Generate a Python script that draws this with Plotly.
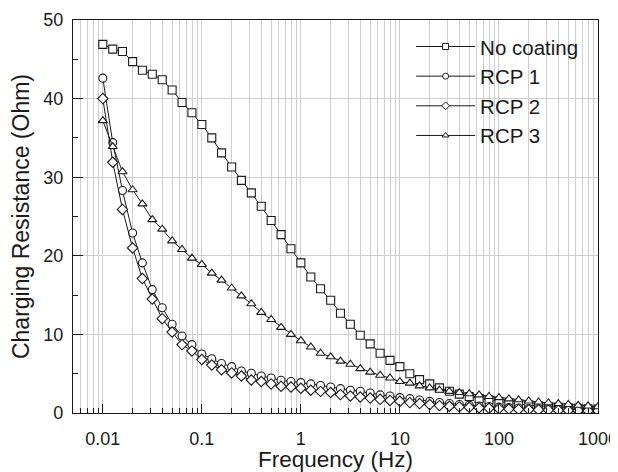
import plotly.graph_objects as go

freq = [0.01, 0.0126, 0.0158, 0.02, 0.0251, 0.0316, 0.0398, 0.0501, 0.0631, 0.0794,
        0.1, 0.126, 0.158, 0.2, 0.251, 0.316, 0.398, 0.501, 0.631, 0.794,
        1, 1.26, 1.58, 2, 2.51, 3.16, 3.98, 5.01, 6.31, 7.94,
        10, 12.6, 15.8, 20, 25.1, 31.6, 39.8, 50.1, 63.1, 79.4,
        100, 126, 158, 200, 251, 316, 398, 501, 631, 794, 1000]

no_coating = [46.9, 46.3, 46.0, 44.7, 43.6, 43.1, 42.4, 41.1, 39.5, 38.2,
              36.7, 35.0, 33.1, 31.3, 29.6, 28.0, 26.3, 24.5, 22.7, 20.9,
              19.1, 17.3, 15.8, 14.35, 12.7, 11.3, 9.9, 8.8, 7.6, 6.7,
              5.9, 5.0, 4.25, 3.7, 3.2, 2.76, 2.4, 2.1, 1.85, 1.65,
              1.45, 1.3, 1.15, 1.0, 0.9, 0.8, 0.72, 0.65, 0.6, 0.55, 0.5]

rcp1 = [42.6, 34.4, 28.3, 22.9, 19.1, 15.7, 13.4, 11.3, 9.8, 8.7,
        7.5, 6.9, 6.3, 5.9, 5.35, 5.05, 4.7, 4.45, 4.16, 4.0,
        3.87, 3.7, 3.5, 3.3, 3.1, 2.9, 2.76, 2.55, 2.3, 2.17,
        1.96, 1.83, 1.65, 1.48, 1.33, 1.2, 1.08, 0.98, 0.9, 0.82,
        0.75, 0.69, 0.63, 0.58, 0.54, 0.5, 0.47, 0.44, 0.41, 0.39, 0.37]

rcp2 = [40.0, 31.9, 25.9, 21.0, 17.1, 14.5, 12.0, 10.3, 8.7, 7.9,
        6.8, 6.1, 5.5, 5.1, 4.7, 4.2, 4.0, 3.7, 3.4, 3.3,
        3.15, 2.9, 2.75, 2.6, 2.34, 2.17, 2.04, 1.9, 1.74, 1.6,
        1.49, 1.32, 1.2, 1.07, 0.94, 0.86, 0.78, 0.72, 0.66, 0.6,
        0.55, 0.5, 0.46, 0.42, 0.39, 0.36, 0.34, 0.32, 0.3, 0.28, 0.27]

rcp3 = [37.2, 33.9, 30.7, 28.4, 26.6, 24.6, 23.4, 21.9, 20.8, 19.7,
        18.9, 17.8, 16.9, 15.9, 14.9, 13.9, 12.8, 11.9, 10.9, 10.0,
        9.2, 8.4, 7.6, 7.15, 6.6, 6.2, 5.65, 5.2, 4.8, 4.45,
        4.0, 3.8, 3.45, 3.2, 2.9, 2.75, 2.6, 2.45, 2.3, 2.1,
        1.95, 1.8, 1.68, 1.53, 1.4, 1.3, 1.2, 1.08, 0.98, 0.9, 0.8]

series = [("No coating", no_coating, "square"),
          ("RCP 1", rcp1, "circle"),
          ("RCP 2", rcp2, "diamond"),
          ("RCP 3", rcp3, "triangle-up")]

x_ticks = [0.01, 0.1, 1, 10, 100, 1000]
x_ticktext = ["0.01", "0.1", "1", "10", "100", "1000"]
y_ticks = [0, 10, 20, 30, 40, 50]

ink = "#1a1a1a"
fig = go.Figure()
for name, vals, sym in series:
    fig.add_trace(go.Scatter(
        x=freq, y=vals, name=name, mode="lines+markers", showlegend=False,
        line=dict(color=ink, width=1),
        marker=dict(symbol=sym, size=8, color="white", line=dict(color=ink, width=1.1)),
    ))
# legend entries (smaller symbols, as in the reference legend)
for name, vals, sym in series:
    fig.add_trace(go.Scatter(
        x=[None], y=[None], name=name, mode="lines+markers", legendgroup=name,
        line=dict(color=ink, width=1),
        marker=dict(symbol=sym, size=6, color="white", line=dict(color=ink, width=1)),
    ))

font_family = "Liberation Sans, Arial, sans-serif"
# the page body adds an 8 px offset, so the figure is 8 px smaller on each axis
fig.update_layout(
    width=610, height=464,
    margin=dict(l=65, r=20, t=12, b=59, autoexpand=False),
    paper_bgcolor="white", plot_bgcolor="white",
    font=dict(family=font_family, size=18, color=ink),
    showlegend=True,
    legend=dict(x=0.644, y=0.983, xanchor="left", yanchor="top",
                bgcolor="rgba(255,255,255,0)", font=dict(size=20.5),
                itemwidth=59, tracegroupgap=0),
)
fig.update_xaxes(
    type="log", range=[-2.30103, 3.0004], automargin=False,
    tickvals=x_ticks, ticktext=x_ticktext,
    ticks="inside", ticklen=9, tickwidth=1, tickcolor=ink,
    showline=True, linecolor=ink, linewidth=1.3, mirror=True,
    showgrid=True, gridcolor="#cfcfcf", gridwidth=1,
    minor=dict(ticks="inside", ticklen=5, tickcolor=ink,
               showgrid=True, gridcolor="#cfcfcf", gridwidth=1, dtick="D1"),
    tickfont=dict(size=18), ticklabelstandoff=9,
    title=dict(text="Frequency (Hz)", font=dict(size=22.5), standoff=13),
    zeroline=False,
)
fig.update_yaxes(
    range=[0, 50], tickvals=y_ticks, automargin=False,
    ticks="inside", ticklen=10, tickwidth=1, tickcolor=ink,
    showline=True, linecolor=ink, linewidth=1.3, mirror=True,
    showgrid=True, gridcolor="#cfcfcf", gridwidth=1,
    minor=dict(ticks="inside", ticklen=5, tickcolor=ink, dtick=5, showgrid=False),
    tickfont=dict(size=18), ticklabelstandoff=5,
    title=dict(text="Charging Resistance (Ohm)", font=dict(size=23), standoff=16),
    zeroline=False,
)

fig.write_html("out.html")
